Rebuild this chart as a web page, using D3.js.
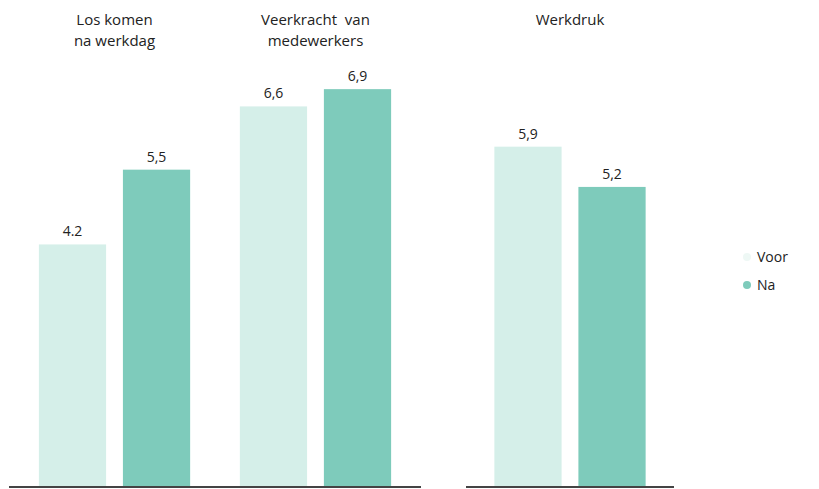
<!DOCTYPE html>
<html><head><meta charset="utf-8">
<script src="https://cdn.jsdelivr.net/npm/d3@7"></script>
<style>html,body{margin:0;padding:0;background:#fff;}svg{display:block;}</style>
</head><body>
<svg id="chart" width="819" height="489"></svg>
<script>
// ---- data ----
const categories = ["Los komen na werkdag", "Veerkracht van medewerkers", "Werkdruk"];
const titleLines = [["Los komen", "na werkdag"], ["Veerkracht  van", "medewerkers"], ["Werkdruk"]];
const series = ["Voor", "Na"];
const voorValues = [4.2, 6.6, 5.9];
const naValues = [5.5, 6.9, 5.2];
const voorLabels = ["4.2", "6,6", "5,9"];
const naLabels = ["5,5", "6,9", "5,2"];
const panels = [[0, 1], [2]]; // category indices per panel

const colors = { Voor: "#d5efe9", Na: "#7ecbbb" };
const font = "'Open Sans', 'Noto Sans', sans-serif";

const svg = d3.select("#chart");
const baseY = 486;
const y = d3.scaleLinear().domain([0, 8.45]).range([baseY, 0]);

const panelRanges = [[9, 421], [466, 674]];
const panelPad = [0.025, 0];

const inner = d3.scaleBand().domain(series).range([0, 201]).paddingInner(0.2).paddingOuter(0.296);

const data = series.map(s => ({ key: s, values: s === "Voor" ? voorValues : naValues, labels: s === "Voor" ? voorLabels : naLabels }));

panels.forEach((idxs, p) => {
  const x = d3.scaleBand().domain(idxs).range(panelRanges[p]).paddingInner(0).paddingOuter(panelPad[p]);
  idxs.forEach(i => {
    const cx = x(i) + x.bandwidth() / 2;
    const g = svg.append("g").attr("transform", `translate(${cx - 100.5},0)`);
    data.forEach(d => {
      const v = d.values[i];
      g.append("rect")
        .attr("x", inner(d.key)).attr("width", inner.bandwidth())
        .attr("y", y(v)).attr("height", baseY - y(v))
        .attr("fill", colors[d.key]);
      g.append("text")
        .attr("x", inner(d.key) + inner.bandwidth() / 2)
        .attr("y", y(v) - 8)
        .attr("text-anchor", "middle")
        .attr("font-family", font).attr("font-size", 14).attr("fill", "#222")
        .text(d.labels[i]);
    });
    const t = svg.append("text").attr("text-anchor", "middle")
      .attr("font-family", font).attr("font-size", 15).attr("fill", "#222");
    titleLines[i].forEach((ln, k) => {
      t.append("tspan").attr("x", cx).attr("y", 25 + k * 21).attr("xml:space", "preserve").text(ln);
    });
  });
  svg.append("line")
    .attr("x1", panelRanges[p][0]).attr("x2", panelRanges[p][1])
    .attr("y1", baseY + 1).attr("y2", baseY + 1)
    .attr("stroke", "#444").attr("stroke-width", 2);
});

// legend
const legend = svg.append("g").attr("transform", "translate(747,257)");
series.forEach((s, k) => {
  const row = legend.append("g").attr("transform", `translate(0,${k * 28})`);
  row.append("circle").attr("r", 4).attr("fill", s === "Voor" ? "#eef8f5" : "#7ecbbb");
  row.append("text").attr("x", 10).attr("y", 5)
    .attr("font-family", font).attr("font-size", 14).attr("fill", "#222").text(s);
});
</script>
</body></html>
